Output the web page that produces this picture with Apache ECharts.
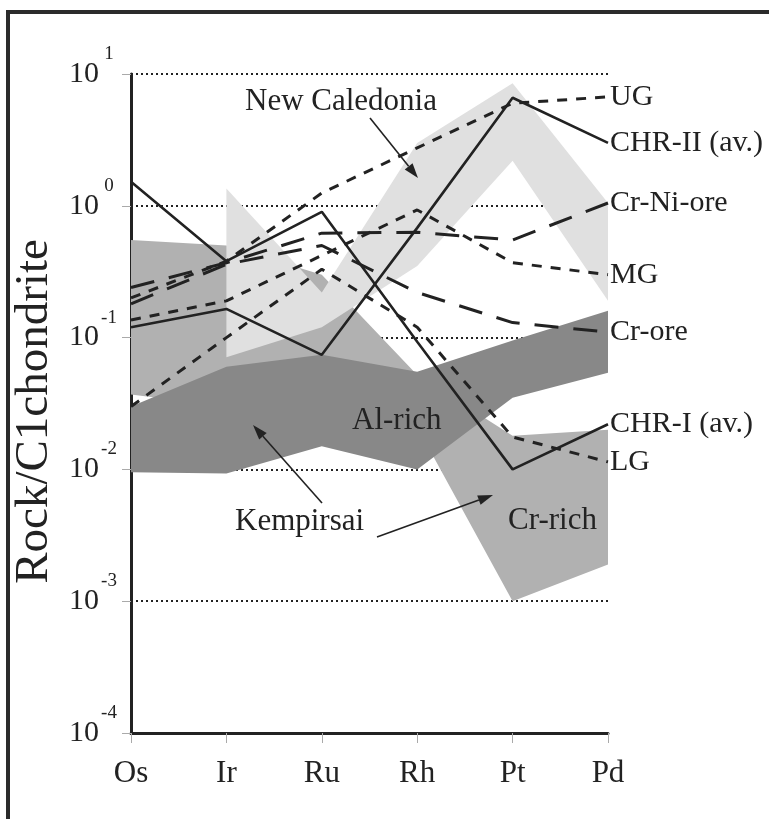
<!DOCTYPE html>
<html>
<head>
<meta charset="utf-8">
<script src="https://cdn.jsdelivr.net/npm/echarts@6/dist/echarts.min.js"></script>
<style>
html,body{margin:0;padding:0;background:#fff;}
#chart{width:769px;height:819px;}
</style>
</head>
<body>
<div id="chart"></div>
<script>
// ---------- data ----------
const elements = ['Os', 'Ir', 'Ru', 'Rh', 'Pt', 'Pd'];

// line series (Rock / C1 chondrite)
const UG        = [0.20, 0.38, 1.25, 2.75, 6.0, 6.7];
const MG        = [0.136, 0.19, 0.42, 0.93, 0.37, 0.30];
const LG        = [0.030, 0.10, 0.33, 0.12, 0.0176, 0.0114];
const CrNiOre   = [0.24, 0.37, 0.62, 0.63, 0.55, 1.05];
const CrOre     = [0.18, 0.36, 0.50, 0.22, 0.13, 0.11];
const CHR_II    = [0.12, 0.165, 0.074, 0.68, 6.6, 3.0];
const CHR_I     = [1.52, 0.38, 0.90, 0.093, 0.010, 0.022];

// shaded fields (upper and lower envelopes)
const newCaledoniaUpper = [null, 1.35, 0.22, 3.0, 8.5, 1.05];
const newCaledoniaLower = [null, 0.071, 0.12, 0.35, 2.2, 0.19];
const crRichUpper       = [0.55, 0.50, 0.30, 0.052, 0.018, 0.020];
const crRichLower       = [0.037, 0.030, 0.030, 0.021, 0.001, 0.0019];
const alRichUpper       = [0.030, 0.060, 0.074, 0.055, 0.095, 0.16];
const alRichLower       = [0.0095, 0.0093, 0.015, 0.010, 0.035, 0.054];

const yAxisMin = 0.0001, yAxisMax = 10;

// ---------- chart ----------
const FONT = "'Liberation Serif', 'Times New Roman', serif";
const INK = '#222';
const chart = echarts.init(document.getElementById('chart'), null, {renderer: 'canvas'});

function band(name, upper, lower, color) {
  return {
    type: 'custom', name: name, silent: true, z: 1,
    data: [[0, 1]], encode: {x: 0, y: 1},
    renderItem: function (params, api) {
      const pts = [];
      upper.forEach(function (v, i) { if (v != null) pts.push(api.coord([i, v])); });
      for (let i = lower.length - 1; i >= 0; i--) {
        if (lower[i] != null) pts.push(api.coord([i, lower[i]]));
      }
      return {type: 'polygon', shape: {points: pts}, style: {fill: color}};
    }
  };
}

function line(name, data, dash, width) {
  return {
    type: 'line', name: name, data: data, symbol: 'none', z: 5,
    lineStyle: {color: INK, width: width, type: dash},
    endLabel: {show: true, formatter: name, fontFamily: FONT, fontSize: 30,
      color: INK, distance: 2},
    emphasis: {disabled: true}
  };
}

function arrow(x1, y1, x2, y2) {
  const a = Math.atan2(y2 - y1, x2 - x1), L = 15, W = 5;
  const bx = x2 - L * Math.cos(a), by = y2 - L * Math.sin(a);
  const px = -Math.sin(a) * W, py = Math.cos(a) * W;
  return [
    {type: 'line', z: 20, shape: {x1: x1, y1: y1, x2: bx, y2: by},
      style: {stroke: INK, lineWidth: 1.6}},
    {type: 'polygon', z: 20,
      shape: {points: [[x2, y2], [bx + px, by + py], [bx - px, by - py]]},
      style: {fill: INK}}
  ];
}

function label(text, x, y) {
  return {type: 'text', z: 20, x: x, y: y,
    style: {text: text, font: '31px ' + FONT, fill: INK,
      textAlign: 'left', textVerticalAlign: 'middle'}};
}

const SHORT = [10, 9], LONG = [24, 15];

const option = {
  animation: false,
  backgroundColor: '#fff',
  grid: {left: 131, right: 161, top: 74, bottom: 86},
  xAxis: {
    type: 'category', data: elements, boundaryGap: false,
    axisLine: {show: true, lineStyle: {color: INK, width: 3}},
    axisTick: {show: true, length: 10, lineStyle: {color: '#aaa', width: 1}},
    axisLabel: {fontFamily: FONT, fontSize: 31, color: INK, margin: 25},
    splitLine: {show: false}
  },
  yAxis: {
    type: 'log', logBase: 10, min: yAxisMin, max: yAxisMax,
    name: 'Rock/C1chondrite', nameLocation: 'middle', nameGap: 62,
    nameTextStyle: {fontFamily: FONT, fontSize: 47, color: INK, padding: [0, 16, 0, 0]},
    axisLine: {show: true, lineStyle: {color: INK, width: 3}},
    axisTick: {show: true, length: 9, lineStyle: {color: '#aaa', width: 1}},
    axisLabel: {
      margin: 13,
      formatter: function (v) {
        const e = Math.round(Math.log10(v));
        return '{b|10}{s|' + e + '}';
      },
      rich: {
        b: {fontFamily: FONT, fontSize: 30, color: INK, verticalAlign: 'middle'},
        s: {fontFamily: FONT, fontSize: 19, color: INK, verticalAlign: 'middle',
          width: 18, align: 'left', padding: [0, 0, 40, 1]}
      }
    },
    splitLine: {show: true, lineStyle: {color: INK, width: 2, type: [2, 3]}}
  },
  series: [
    band('Cr-rich', crRichUpper, crRichLower, '#b1b1b1'),
    band('New Caledonia', newCaledoniaUpper, newCaledoniaLower, '#e0e0e0'),
    band('Al-rich', alRichUpper, alRichLower, '#888888'),
    line('UG', UG, SHORT, 3),
    line('MG', MG, SHORT, 3),
    line('LG', LG, SHORT, 3),
    line('Cr-Ni-ore', CrNiOre, LONG, 3),
    line('Cr-ore', CrOre, LONG, 3),
    line('CHR-II (av.)', CHR_II, 'solid', 2.6),
    line('CHR-I (av.)', CHR_I, 'solid', 2.6)
  ],
  graphic: [
    {type: 'rect', z: 30, shape: {x: 8, y: 12, width: 900, height: 900},
      style: {fill: 'none', stroke: '#2b2b2b', lineWidth: 4}},
    label('New Caledonia', 245, 102),
    label('Al-rich', 352, 421),
    label('Cr-rich', 508, 521),
    label('Kempirsai', 235, 522)
  ].concat(arrow(370, 118, 418, 178))
   .concat(arrow(322, 503, 253, 425))
   .concat(arrow(377, 537, 493, 495))
};

chart.setOption(option);
</script>
</body>
</html>
